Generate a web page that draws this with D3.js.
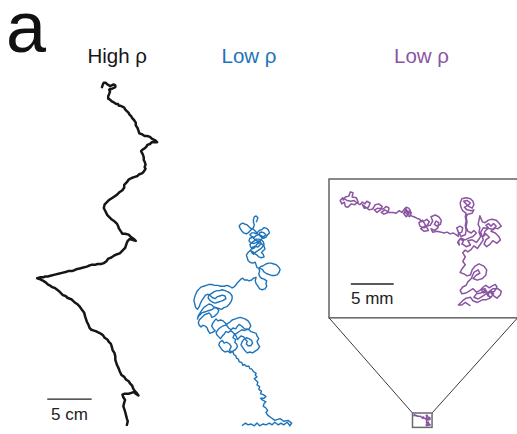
<!DOCTYPE html>
<html>
<head>
<meta charset="utf-8">
<script src="https://cdn.jsdelivr.net/npm/d3@7"></script>
<style>
  html, body { margin: 0; padding: 0; background: #fff; }
  svg { display: block; font-family: "Liberation Sans", Arial, Helvetica, sans-serif; }
</style>
</head>
<body>
<svg id="fig" width="517" height="434"></svg>
<script>
// Panel titles and scale-bar labels
const panelLetter = "a";
const panelTitles = ["High ρ", "Low ρ", "Low ρ"];
const scaleBarLabels = ["5 cm", "5 mm"];
const scaleBarLengthsMm = [50, 5];

// Tracked positions, [x, y] in mm (arena frame, y downward)
const highRhoTrack = [
  [81,8],[82,5],[83,3],[85,3],[87,5],[89,6],[90,7],[92,6],[94,5],[96,6],[96,8],[94,9],[92,10],[90,10],[89,11],
  [90,13],[89,16],[88,18],[88,21],[90,22],[92,24],[94,25],[97,27],[99,27],[100,29],[102,29],[104,30],[106,31],
  [107,33],[109,35],[111,37],[112,39],[114,41],[115,43],[117,45],[119,48],[119,51],[121,54],[122,57],[123,60],
  [126,61],[129,63],[132,63],[135,64],[137,66],[139,67],[141,68],[143,70],[140,70],[137,70],[135,72],[132,73],
  [131,75],[129,77],[127,78],[125,80],[126,82],[127,84],[128,87],[128,90],[129,92],[130,95],[129,98],[130,100],
  [128,103],[126,105],[123,106],[121,108],[118,109],[115,110],[113,111],[111,112],[109,115],[106,118],[106,121],
  [104,124],[101,126],[98,129],[95,131],[92,133],[89,135],[86,138],[84,140],[83,144],[85,148],[87,152],[89,154],
  [92,157],[95,159],[98,162],[99,164],[100,167],[102,170],[104,173],[107,173],[111,174],[114,177],[117,179],
  [119,181],[116,180],[112,179],[110,181],[109,183],[108,186],[107,189],[104,192],[101,195],[98,196],[94,198],
  [91,200],[88,201],[86,204],[83,206],[80,207],[76,207],[73,208],[69,208],[66,209],[64,210],[60,211],[56,212],
  [52,213],[50,214],[47,215],[43,215],[40,216],[36,217],[32,218],[28,219],[24,220],[20,221],[17,221],[15,222],
  [12,222],[8,223],[11,224],[15,226],[18,228],[20,230],[22,231],[25,233],[28,234],[32,237],[34,239],[37,242],
  [40,243],[42,245],[47,247],[50,250],[53,252],[56,255],[58,258],[61,262],[62,266],[63,269],[64,272],[66,276],
  [67,279],[69,281],[72,282],[75,283],[79,285],[82,287],[84,290],[87,292],[89,295],[91,297],[92,300],[93,304],
  [95,307],[96,311],[96,315],[97,318],[98,321],[100,325],[101,328],[103,332],[106,334],[108,337],[111,339],
  [113,342],[115,344],[116,347],[118,350],[120,352],[122,355],[119,353],[117,351],[114,352],[111,353],[109,353],
  [106,353],[104,354],[105,357],[107,360],[106,363],[105,367],[106,370],[107,373],[108,377],[109,381],[110,384],
  [109,388]
];

const lowRhoTrack = [
  // start of the run, along the bottom
  [64,254],[68,251],[71,253],[74,252],[78,254],[81,251],[84,254],[88,252],[91,253],[95,251],
  [98,253],[101,250],[105,253],[108,251],[111,253],[115,250],[118,254],[120,251],[116,248],[111,249],
  [107,246],[101,248],[97,245],[93,242],[91,239],[93,237],[91,234],[88,232],[89,229],[91,227],
  [87,225],[85,223],[89,223],[91,221],[88,219],[85,218],[86,215],[83,213],[84,210],[81,208],
  [82,205],[80,203],[78,201],[81,199],[79,197],[80,195],[77,193],[75,190],[73,190],[72,187],
  [69,187],[67,185],[65,186],[64,183],[61,182],[60,179],[58,178],[57,175],[55,174],[54,171],
  [51,170],[50,169],
  // lower cluster
  [52,165],[50,162],[47,160],[44,161],[42,158],[39,160],[38,163],[40,166],[42,169],[45,171],
  [48,170],[51,172],[54,170],[57,168],[59,165],[58,162],[56,160],[57,157],[54,155],[55,152],
  [58,150],[61,148],[64,146],[67,147],[69,145],[72,146],[74,148],[77,149],[80,150],[81,153],
  [83,156],[81,159],[82,162],[84,165],[82,168],[79,170],[76,172],[73,171],[70,172],[67,169],
  [65,166],[63,163],[64,160],[66,157],[69,155],[72,156],[75,158],[76,161],[74,164],[71,164],
  [69,162],[70,159],[68,157],[66,154],[63,153],[61,155],[59,157],[58,154],[56,151],[54,149],
  [51,147],[49,149],[46,148],[44,151],[42,153],[40,156],[38,154],[36,152],[35,149],[37,146],
  [39,144],[42,142],[45,141],[48,139],[51,137],[53,135],[56,134],[59,133],[62,132],[65,133],
  [68,134],[71,136],[73,139],[74,142],[72,145],[69,146],[66,144],[64,142],[61,140],[59,142],
  [57,145],[54,144],[52,146],[49,144],[47,141],[45,138],[43,136],[40,135],[37,136],[35,134],
  [33,136],[31,139],[30,142],[32,145],[34,147],[31,149],[28,150],[26,147],[25,144],[23,142],
  [20,141],[18,143],[16,141],[15,138],[16,135],[18,133],[20,131],[22,129],[25,128],[27,127],
  [29,129],[30,132],[33,131],[35,129],[37,127],[38,124],[36,122],[33,121],[31,123],[28,124],
  [25,125],[22,126],[19,127],[17,129],[15,131],[14,134],[15,130],[17,127],[19,124],[21,121],
  [24,119],[27,117],[30,118],[32,120],[35,121],[38,122],[41,123],[44,121],[47,120],[50,117],
  [52,114],[53,111],[53,108],[51,105],[48,103],[45,102],[42,101],[39,102],[36,102],[33,103],
  [30,105],[27,107],[26,110],[28,113],[31,115],[34,116],[37,115],[40,114],[43,113],[46,111],
  [45,108],[42,107],[39,108],[36,109],[34,111],[31,110],[29,108],[26,106],[23,107],[21,110],
  [19,113],[17,117],[16,120],[14,123],[12,121],[11,117],[10,113],[11,109],[12,106],[14,102],
  [16,100],[18,98],[21,97],[24,96],[27,95],[30,95],[33,96],[37,96],[40,97],[44,97],
  [47,96],[50,97],[53,99],[55,98],[57,96],[59,93],[61,91],[63,89],[65,88],[67,90],
  [70,90],[72,91],[75,90],[77,88],[80,87],
  // upper cluster
  [79,91],[80,94],[82,97],[84,100],[87,101],[90,100],[92,97],[91,94],[92,91],[89,89],
  [86,88],[84,86],[83,83],[84,80],[83,77],[85,75],[88,74],[91,72],[94,71],[97,71],
  [100,72],[103,73],[105,75],[107,78],[106,81],[104,84],[101,85],[98,85],[95,84],[92,83],
  [89,81],[87,78],[84,77],[81,76],[80,73],[79,70],[76,71],[73,70],[71,68],[70,65],
  [69,62],[71,59],[73,57],[76,58],[78,60],[81,62],[83,64],[86,65],[89,64],[88,61],
  [86,59],[88,57],[90,55],[89,52],[87,50],[85,48],[82,49],[80,51],[78,54],[76,55],
  [74,53],[73,50],[75,48],[78,46],[80,44],[83,44],[86,45],[88,47],[89,50],[87,53],
  [85,55],[82,57],[79,59],[77,61],[75,59],[74,56],[76,53],[79,52],[82,53],[84,51],
  [86,49],[84,46],[81,46],[78,44],[76,42],[73,43],[72,46],[74,48],[77,49],[80,48],
  [83,47],[85,45],[87,43],[86,40],[83,39],[80,40],[78,42],[75,41],[73,39],[75,37],
  [78,37],[80,38],[82,36],[84,34],[87,33],[89,31],[92,32],[94,34],[95,37],[93,39],
  [91,42],[88,43],[86,42],[84,40],[84,37],[86,36],[89,37],[91,39],[89,41],[86,41],
  [83,39],[81,37],[79,35],[77,33],[74,32],[72,30],[70,28],[67,27],[65,26],[63,27],
  [61,29],[62,32],[64,35],[66,37],[69,38],[71,37],[73,35],[75,33],[77,31],[78,28],
  [77,25],[77,22],[78,19],[80,18],[82,20],[81,23],[80,25]
];

const lowRhoFineTrack = [
  [1.6,2.5],[1.9,2.1],[2.3,2.0],[2.5,1.5],[2.8,1.6],[2.7,2.1],[3.2,2.2],[3.4,2.7],[3.0,3.0],[2.6,2.9],
  [2.2,3.3],[1.9,3.2],[1.8,2.7],[1.5,2.9],[1.3,2.5],[1.6,2.2],[2.1,2.5],[2.6,2.6],[2.9,2.5],[3.3,2.8],
  [3.6,3.0],[3.9,2.7],[4.2,2.9],[4.4,2.6],[4.8,2.8],[4.6,3.3],[4.1,3.4],[3.9,3.0],[4.3,3.3],[4.7,3.6],
  [5.1,3.5],[5.4,3.0],[5.8,2.9],[6.2,3.2],[6.0,3.6],[5.6,3.9],[5.3,3.6],[5.7,3.4],[6.3,3.5],[6.7,3.2],
  [7.0,3.4],[6.9,3.9],[6.4,4.1],[6.1,3.9],[6.5,3.6],[7.0,3.9],[7.5,3.9],[7.8,4.0],[8.2,3.7],[8.5,3.9],
  [8.8,3.5],[9.0,3.3],[9.3,3.4],[9.5,3.7],[9.1,4.0],[8.8,3.9],[9.0,3.5],[9.3,4.1],[9.0,4.4],[8.7,4.0],
  [9.1,3.7],[9.6,3.9],[9.4,4.4],[9.1,4.2],[9.4,3.8],[9.6,4.3],[9.9,4.4],[10.3,4.6],[10.6,4.7],[10.7,5.0],
  [11.1,4.9],[11.4,4.7],[11.7,5.0],[11.4,5.5],[11.1,5.7],[10.6,5.5],[10.5,5.1],[10.9,4.8],[11.2,5.3],[11.6,6.0],
  [11.1,6.1],[10.7,5.8],[11.2,5.5],[11.8,5.4],[12.1,4.9],[11.9,4.4],[12.4,4.2],[12.8,4.4],[13.1,4.8],[13.0,5.3],
  [12.6,5.5],[12.3,5.3],[12.5,4.9],[12.8,5.1],[12.7,5.7],[12.3,6.0],[11.9,5.8],[12.1,6.2],[12.6,6.1],[13.1,6.2],
  [13.4,6.3],[13.8,6.2],[14.1,6.4],[14.5,6.3],[14.8,6.5],[15.1,6.7],[15.1,6.2],[14.9,5.7],[15.3,5.5],[15.6,5.7],
  [15.5,6.2],[15.2,6.3],[15.4,6.7],[15.9,6.5],[16.0,6.0],[15.9,5.4],[16.0,4.9],[15.9,4.4],[16.0,4.0],[15.6,3.7],
  [15.4,3.3],[15.3,2.8],[15.5,2.3],[16.0,2.2],[16.5,2.3],[16.8,2.6],[16.9,3.0],[16.7,3.4],[16.3,3.2],[16.0,2.9],
  [15.7,2.6],[16.1,2.5],[16.5,2.8],[16.3,3.0],[15.8,3.3],[16.1,3.6],[16.6,3.7],[16.9,3.6],[16.7,4.0],[16.2,4.1],
  [16.0,4.4],[16.1,5.0],[16.0,5.6],[16.2,6.1],[16.6,6.3],[16.9,6.0],[17.2,6.3],[16.8,6.7],[16.3,6.9],[15.9,7.1],
  [15.4,6.9],[15.1,7.2],[15.2,7.7],[15.0,7.4],[15.3,7.0],[15.7,7.2],[15.5,7.6],[15.6,7.6],[16.0,7.9],[16.5,7.7],
  [16.2,7.2],[16.7,7.1],[17.2,7.4],[17.5,7.0],[17.7,6.7],[17.5,6.2],[17.6,5.7],[17.4,5.3],[17.5,4.8],[17.6,4.3],
  [17.9,5.0],[18.2,5.1],[18.6,4.8],[19.0,4.7],[19.5,4.8],[19.8,5.1],[20.1,5.5],[19.7,5.8],[19.3,5.7],[18.9,6.1],
  [19.4,6.3],[19.8,6.7],[20.0,7.1],[19.6,7.5],[19.1,7.2],[18.8,7.6],[18.4,7.9],[18.1,7.6],[18.3,7.1],[18.7,6.8],
  [18.3,6.4],[18.0,6.7],[18.2,6.1],[18.6,5.7],[18.3,5.4],[18.6,5.2],[18.9,5.5],[19.2,5.2],[19.5,5.5],[19.2,5.9],
  [18.8,5.8],[18.0,5.7],[17.7,6.2],[18.0,7.1],[17.6,7.7],[17.3,8.1],[16.9,7.8],[16.6,8.2],[16.2,8.5],[15.9,8.3],
  [15.6,8.6],[15.9,9.1],[15.6,9.6],[15.9,10.0],[15.5,10.5],[15.3,10.9],[15.8,11.1],[16.1,11.3],[16.5,11.2],[16.7,10.6],
  [17.0,10.2],[17.5,9.9],[18.1,10.2],[18.4,10.6],[18.3,11.2],[17.9,11.6],[17.3,11.8],[16.8,11.6],[17.2,11.2],[17.6,11.0],
  [17.4,10.6],[16.9,10.9],[16.6,11.6],[16.2,12.0],[16.0,12.4],[15.6,12.6],[15.3,13.0],[15.5,13.4],[16.0,13.3],[16.3,13.1],
  [16.8,12.8],[17.2,13.2],[17.6,13.0],[18.0,12.6],[18.3,12.4],[18.7,12.7],[19.0,12.5],[19.4,12.3],[19.6,12.6],[19.3,13.1],
  [18.9,13.3],[19.3,13.7],[19.6,13.9],[20.0,13.5],[20.1,13.1],[19.7,12.8],[19.1,12.8],[18.6,13.2],[18.2,13.5],[17.7,13.8],
  [17.4,14.0],[16.9,13.8],[17.2,13.4],[17.7,13.3],[18.2,13.0],[18.6,13.4],[18.9,13.0],[19.2,13.4],[18.9,13.8],[18.5,13.6],
  [18.4,13.1],[18.0,13.3],[17.8,12.9],[18.2,12.8],[18.8,13.9],[18.3,14.1],[17.9,14.1],[17.3,14.4],[16.8,14.2],[16.5,13.8],
  [16.0,13.9],[15.6,14.2],[15.3,14.5],[15.1,14.7],[15.5,14.7],[15.9,14.4],[16.2,14.6],[16.5,14.8]
];

// Field of view of the magnified panel, mm
const fineView = { width: 22, height: 16.2 };

const colors = { high: "#161616", low: "#1d74bb", fine: "#8a56a2", frame: "#4a4a4a" };

// Plot scale: px per mm for the overview panels and for the magnified panel
const kMain = 44.44 / 50;
const kFine = 60 / 7;

function frame(x0, y0, k, extentMm) {
  return {
    x: d3.scaleLinear().domain([0, extentMm]).range([x0, x0 + extentMm * k]),
    y: d3.scaleLinear().domain([0, extentMm]).range([y0, y0 + extentMm * k])
  };
}

const svg = d3.select("#fig");

const sHigh = frame(30, 80, kMain, 400);
const sLow = frame(185, 200, kMain, 400);
const sFine = frame(329, 179, kFine, 30);
const sThumb = frame(412.5, 413, kMain, 30);

function track(s) {
  return d3.line().x(d => s.x(d[0])).y(d => s.y(d[1])).curve(d3.curveLinear);
}

// Panel letter and titles
svg.append("text").attr("x", 6).attr("y", 52)
  .attr("font-size", 72).attr("fill", "#111").text(panelLetter);

const titleX = [87.5, 221.5, 394];
const titleColors = [colors.high, colors.low, colors.fine];
svg.selectAll("text.title").data(panelTitles).join("text")
  .attr("class", "title")
  .attr("x", (d, i) => titleX[i]).attr("y", 62.5)
  .attr("font-size", 20.5)
  .attr("fill", (d, i) => titleColors[i])
  .text(d => d);

// Magnified panel frame and connector lines to the thumbnail box
const fx0 = sFine.x(0), fx1 = sFine.x(fineView.width);
const fy0 = sFine.y(0), fy1 = sFine.y(fineView.height);
const tx0 = sThumb.x(0), tx1 = sThumb.x(fineView.width);
const ty0 = sThumb.y(0), ty1 = sThumb.y(fineView.height);

svg.append("rect")
  .attr("x", fx0).attr("y", fy0)
  .attr("width", fx1 - fx0).attr("height", fy1 - fy0)
  .attr("fill", "#fff").attr("stroke", colors.frame).attr("stroke-width", 1.3);

svg.append("line").attr("x1", fx0).attr("y1", fy1).attr("x2", tx0).attr("y2", ty0)
  .attr("stroke", "#3a3a3a").attr("stroke-width", 1);
svg.append("line").attr("x1", fx1).attr("y1", fy1).attr("x2", tx1).attr("y2", ty0)
  .attr("stroke", "#3a3a3a").attr("stroke-width", 1);

// Trajectories
svg.append("path").datum(highRhoTrack)
  .attr("d", track(sHigh)).attr("fill", "none")
  .attr("stroke", colors.high).attr("stroke-width", 2.5)
  .attr("stroke-linejoin", "round").attr("stroke-linecap", "round");

svg.append("path").datum(lowRhoTrack)
  .attr("d", track(sLow)).attr("fill", "none")
  .attr("stroke", colors.low).attr("stroke-width", 1.4)
  .attr("stroke-linejoin", "round");

svg.append("path").datum(lowRhoFineTrack)
  .attr("d", track(sFine)).attr("fill", "none")
  .attr("stroke", colors.fine).attr("stroke-width", 1.5)
  .attr("stroke-linejoin", "round");

svg.append("path").datum(lowRhoFineTrack)
  .attr("d", track(sThumb)).attr("fill", "none")
  .attr("stroke", colors.fine).attr("stroke-width", 1.1)
  .attr("stroke-linejoin", "round");

svg.append("rect")
  .attr("x", tx0).attr("y", ty0)
  .attr("width", tx1 - tx0).attr("height", ty1 - ty0)
  .attr("fill", "none").attr("stroke", "#6a6a6a").attr("stroke-width", 1.5);

// Scale bars
function scaleBar(s, x0mm, ymm, lenMm, label, textDy) {
  const xa = s.x(x0mm), xb = s.x(x0mm + lenMm), y = s.y(ymm);
  svg.append("line").attr("x1", xa).attr("x2", xb).attr("y1", y).attr("y2", y)
    .attr("stroke", "#222").attr("stroke-width", 1.3);
  svg.append("text").attr("x", (xa + xb) / 2).attr("y", y + textDy)
    .attr("text-anchor", "middle").attr("font-size", 17).attr("fill", "#222")
    .text(label);
}
scaleBar(sHigh, 19.4, 359, scaleBarLengthsMm[0], scaleBarLabels[0], 21);
scaleBar(sFine, 2.55, 12.25, scaleBarLengthsMm[1], scaleBarLabels[1], 20);
</script>
</body>
</html>
